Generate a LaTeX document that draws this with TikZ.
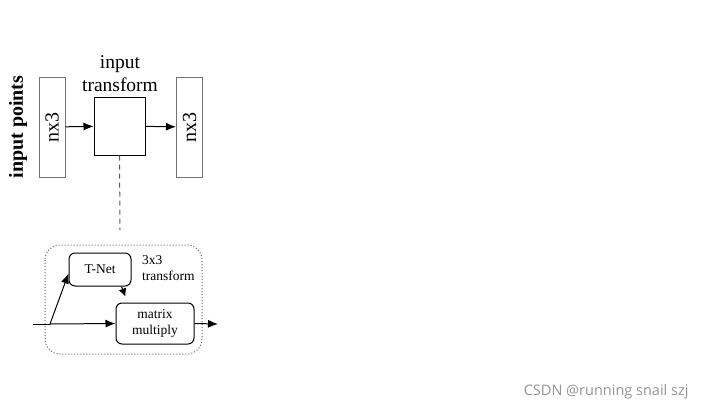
\documentclass[tikz,border=0pt]{standalone}
\usepackage{fontspec}
\setmainfont{Liberation Serif}
\newfontfamily\marksans{Open Sans}
\usetikzlibrary{arrows.meta}

\begin{document}
\begin{tikzpicture}[x=1pt,y=-1pt,
  arr/.style={black, line width=1pt, -{Latex[length=10pt, width=8pt]}},
  colbox/.style={draw=black!55, line width=1pt, minimum width=26pt, minimum height=100pt, inner sep=0pt},
  smallbox/.style={draw=black, line width=1pt, rounded corners=6pt, inner sep=0pt, align=center, font=\fontsize{13.5}{16}\selectfont}]
\useasboundingbox (0,0) rectangle (706,410);
% upper row
\node[rotate=90, font=\fontsize{20}{24}\selectfont\bfseries] (label) at (18,127) {input points};
\node[colbox] (inL) at (52,127) {};
\node[rotate=90, font=\fontsize{20}{24}\selectfont] at (inL) {nx3};
\node[draw=black, line width=1pt, minimum width=51pt, minimum height=58pt, inner sep=0pt] (trans) at (119.5,126) {};
\node[align=center, font=\fontsize{19.5}{23}\selectfont] (transname) at (120,74) {input\\transform};
\node[colbox] (inR) at (189.5,127) {};
\node[rotate=90, font=\fontsize{20}{24}\selectfont] at (inR) {nx3};
\draw[arr] (inL) -- (trans);
\draw[arr] (trans) -- (inR);
\coordinate (zoomend) at (120,230);
\draw[black!65, line width=1pt, dash pattern=on 5pt off 4pt] (trans.south) -- (zoomend);
% lower detail
\draw[black!60, line width=1pt, dotted, rounded corners=15pt] (45,245) rectangle (202,354);
\node[smallbox, minimum width=62pt, minimum height=33pt] (tnet) at (100,269.5) {T-Net};
\node[smallbox, minimum width=78pt, minimum height=41pt] (mm) at (155,323.5) {matrix\\multiply};
\node[align=left, anchor=north west, inner sep=0pt, font=\fontsize{13.5}{16}\selectfont] (tlabel) at (142,255) {3x3\\transform};
\coordinate (in) at (33,324);
\coordinate (split) at (50,324);
\coordinate (out) at (218,324);
\draw[line width=1pt] (in) -- (split);
\draw[arr] (split) -- (mm.west);
\draw[arr] (split) -- ([yshift=-4pt]tnet.west);
\draw[arr, -{Latex[length=8pt, width=8pt]}] ([xshift=-10pt]tnet.south east) -- ([xshift=10pt, yshift=6pt]mm.north west);
\draw[arr] (mm.east) -- (out);
% watermark
\node[anchor=east, text=black!42, font=\marksans\fontsize{14.5}{17}\selectfont] (mark) at (692,392) {CSDN @running snail szj};
\end{tikzpicture}
\end{document}
